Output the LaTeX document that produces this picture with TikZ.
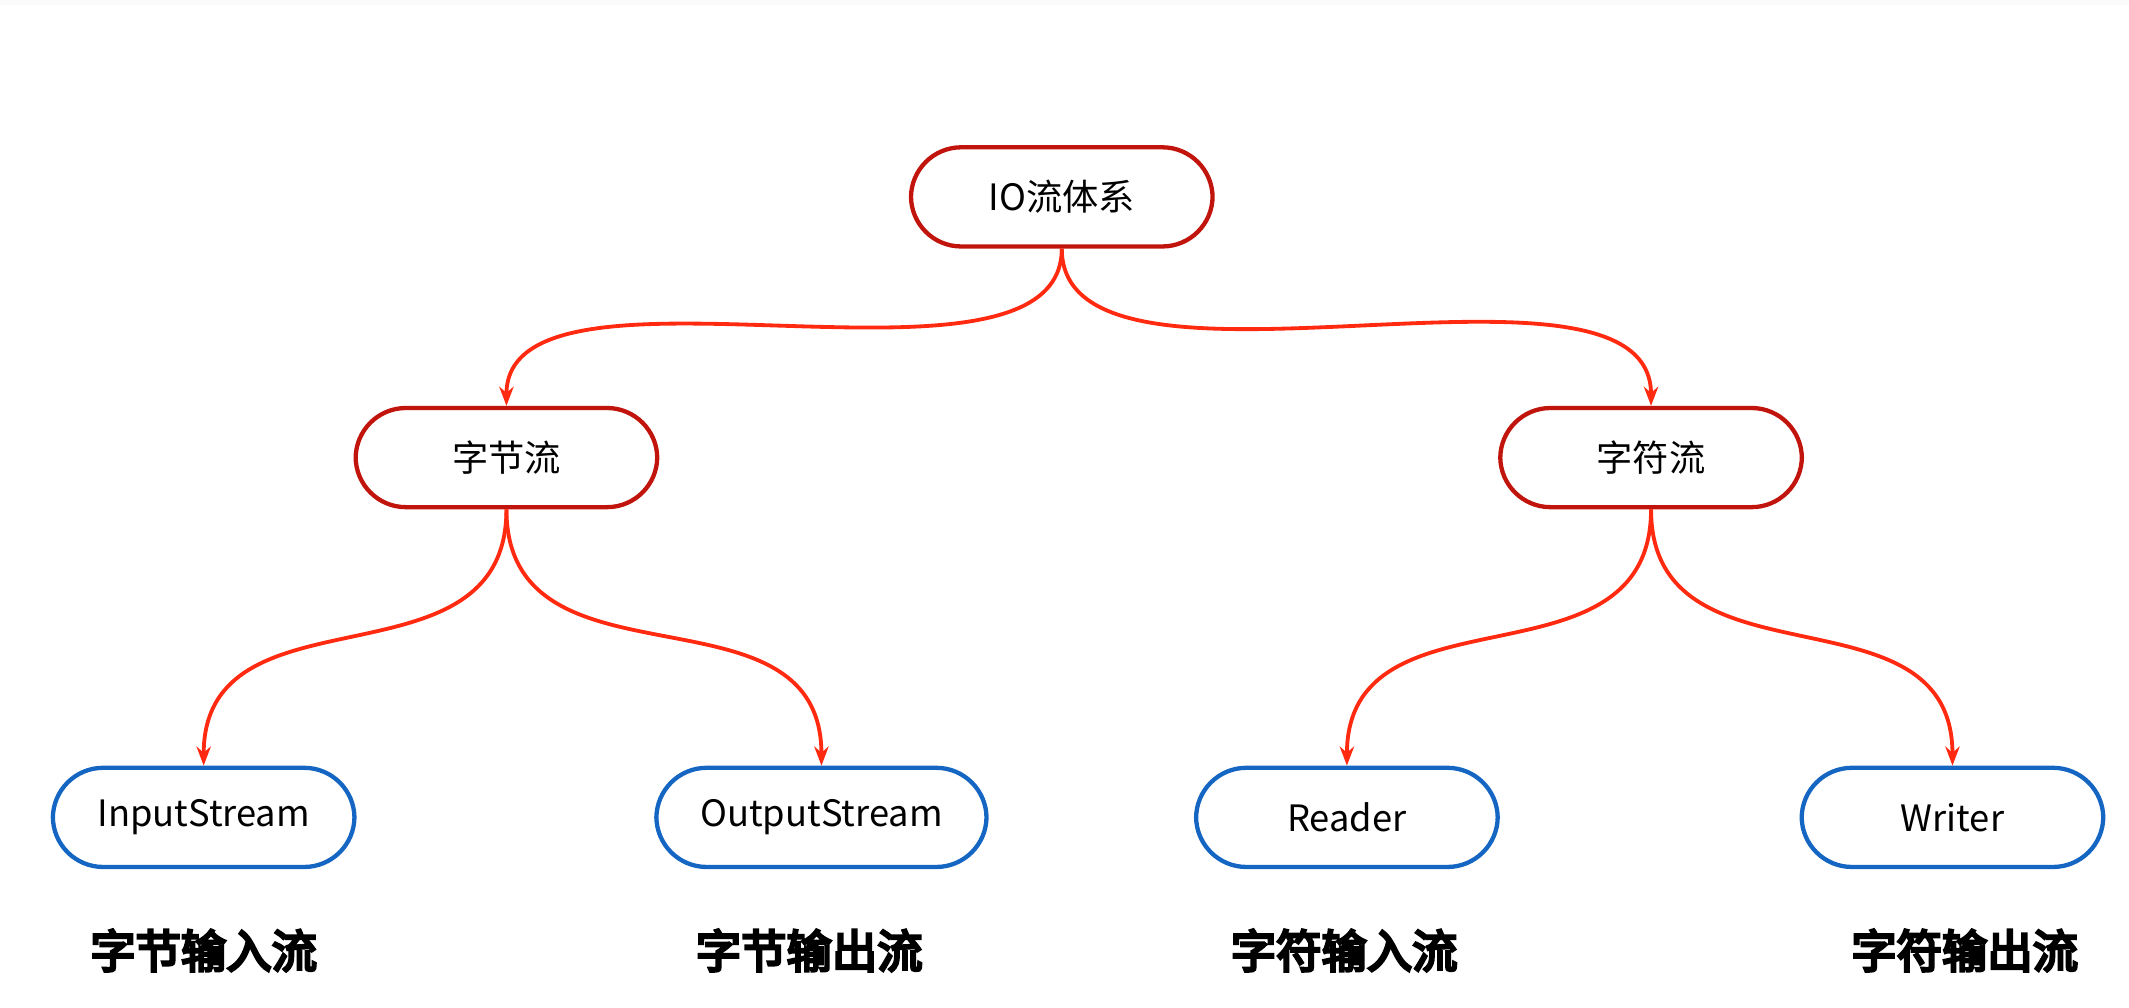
\documentclass[tikz,border=0pt]{standalone}
\usepackage{fontspec}
\setmainfont{Noto Sans}
\newfontfamily\cjk{Noto Sans CJK SC}
\newfontfamily\cjkbf{Noto Sans CJK SC}[FakeBold=6]
\usetikzlibrary{arrows.meta}
\definecolor{boxred}{HTML}{C0140C}
\definecolor{linered}{HTML}{FF2A10}
\definecolor{boxblue}{HTML}{1466C2}
\tikzset{
  box/.style = {rounded corners=0.37cm, line width=0.9pt, minimum width=2.22cm, minimum height=0.73cm, font=\cjk\fontsize{7.6}{8}\selectfont},
  top/.style = {box, draw=boxred},
  leaf/.style = {box, draw=boxblue},
  link/.style = {linered, line width=0.8pt, -{Stealth[length=4pt,width=3pt]}, out=-90, in=90, looseness=1.2},
  tag/.style = {font=\cjkbf\fontsize{9.5}{10}\selectfont}
}
\begin{document}
\begin{tikzpicture}[x=0.01cm, y=-0.01cm]
\useasboundingbox (0,0) rectangle (1568,742);
\fill [black!2] (0,0) rectangle (1568,4);
% tree
\node [top] (io) at (782,145) {IO流体系};
\node [top] (byte) at (373,337) {字节流};
\node [top] (char) at (1216,337) {字符流};
\node [leaf] (in) at (150,602) {InputStream};
\node [leaf, minimum width=2.43cm] (out) at (605,602) {OutputStream};
\node [leaf] (reader) at (992,602) {Reader};
\node [leaf] (writer) at (1438,602) {Writer};
\draw [link, looseness=0.75] (io.south) to (byte.north);
\draw [link, looseness=0.75] (io.south) to (char.north);
\draw [link] (byte.south) to (in.north);
\draw [link] (byte.south) to (out.north);
\draw [link] (char.south) to (reader.north);
\draw [link] (char.south) to (writer.north);
% labels
\node [tag] (tin) at (150,700) {字节输入流};
\node [tag] (tout) at (596,700) {字节输出流};
\node [tag] (treader) at (990,700) {字符输入流};
\node [tag] (twriter) at (1447,700) {字符输出流};
\end{tikzpicture}
\end{document}
